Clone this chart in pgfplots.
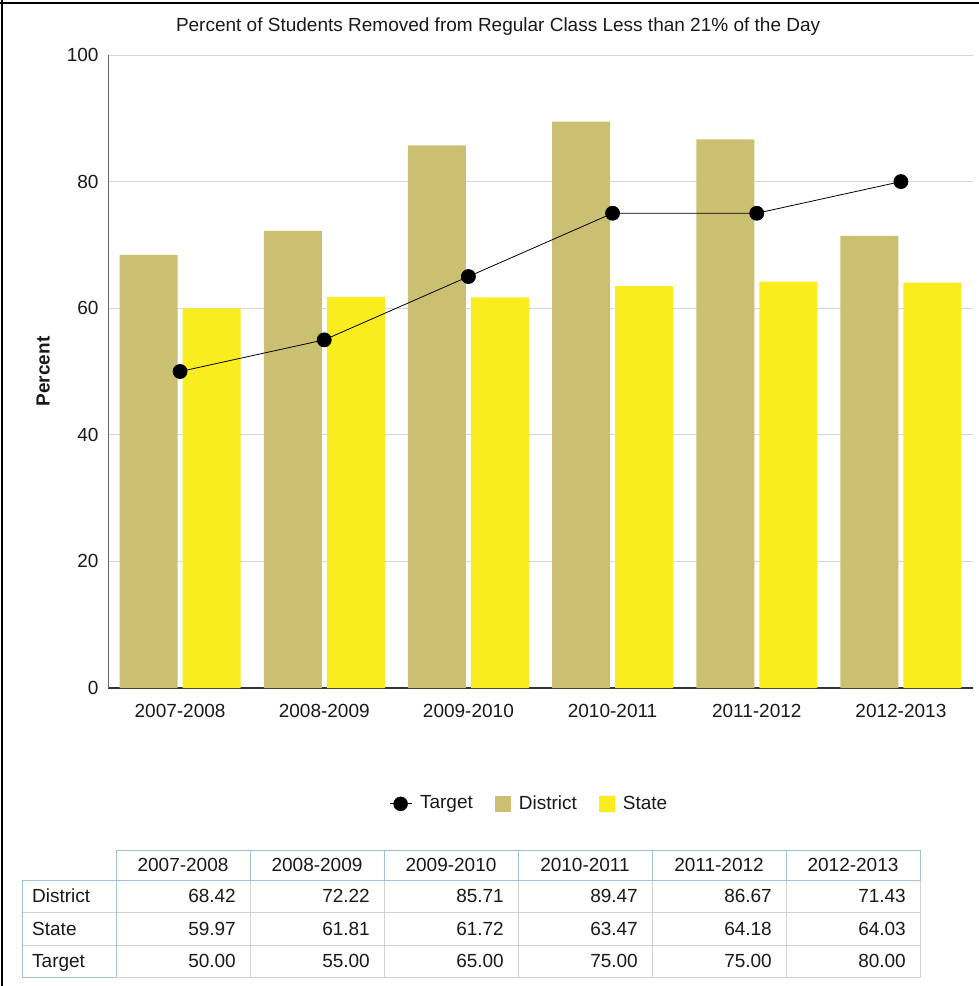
\documentclass[border=0pt]{standalone}
\usepackage{fontspec}
\setmainfont{Liberation Sans}
\usepackage{pgfplots}
\pgfplotsset{compat=1.18}
\definecolor{district}{RGB}{203,192,114}
\definecolor{statec}{RGB}{249,237,31}
\definecolor{gridc}{RGB}{214,214,214}
\definecolor{hdrb}{RGB}{160,190,222}
\definecolor{cellb}{RGB}{210,210,210}
\definecolor{txt}{RGB}{25,25,25}
\pgfplotsset{
  sqlegend/.style={legend image code/.code={\fill[##1] (0pt,-8pt) rectangle (16pt,8pt);}},
  tgtlegend/.style={legend image code/.code={\draw[black,line width=0.8pt] (0pt,0pt) -- (22pt,0pt); \fill[black] (11pt,0pt) circle (7pt);}}
}
\begin{document}
\begin{tikzpicture}[x=1pt,y=1pt]
\fontsize{19}{22}\selectfont
\path[use as bounding box] (0,0) rectangle (979,-986);
\begin{axis}[
  at={(108pt,-688pt)}, anchor=south west,
  scale only axis, width=865pt, height=633pt,
  xmin=-0.5, xmax=5.5, ymin=0, ymax=100,
  xtick={0,1,2,3,4,5},
  xticklabels={2007-2008,2008-2009,2009-2010,2010-2011,2011-2012,2012-2013},
  ytick={0,20,40,60,80,100},
  ymajorgrids, grid style={gridc, line width=1pt},
  axis x line*=bottom, axis y line*=left,
  axis line style={-},
  x axis line style={draw=black!80, line width=1.2pt},
  y axis line style={draw=black!60, line width=1pt},
  major tick length=0pt,
  tick label style={font=\fontsize{19}{22}\selectfont, text=txt},
  /pgf/number format/assume math mode=true,
  yticklabel style={xshift=-3pt},
  xticklabel style={yshift=-10pt},
  title={Percent of Students Removed from Regular Class Less than 21\% of the Day},
  title style={at={(axis description cs:0.451,1.036)}, anchor=center, font=\fontsize{19}{22}\selectfont, text=txt},
  ylabel={\textbf{Percent}},
  ylabel style={at={(axis description cs:-0.075,0.5)}, anchor=center, font=\fontsize{19}{22}\selectfont, text=txt},
  legend style={at={(axis description cs:0.487,-0.183)}, anchor=center, draw=none, fill=none,
    legend columns=3, font=\fontsize{19}{22}\selectfont, text=txt,
    /tikz/every odd column/.append style={column sep=6pt},
    /tikz/every even column/.append style={column sep=20pt},
    legend cell align=left},
]
\addlegendimage{tgtlegend}
\addlegendentry{Target}
\addplot[ybar, bar width=58pt, bar shift=-31.5pt, fill=district, draw=none, sqlegend]
  coordinates {(0,68.42) (1,72.22) (2,85.71) (3,89.47) (4,86.67) (5,71.43)};
\addlegendentry{District}
\addplot[ybar, bar width=58pt, bar shift=31.5pt, fill=statec, draw=none, sqlegend]
  coordinates {(0,59.97) (1,61.81) (2,61.72) (3,63.47) (4,64.18) (5,64.03)};
\addlegendentry{State}
\addplot[black, line width=0.8pt, mark=*, mark size=7pt, forget plot]
  coordinates {(0,50) (1,55) (2,65) (3,75) (4,75) (5,80)};
\end{axis}
% outer border
\draw[black, line width=2pt] (0,-2.5) -- (979,-2.5);
\draw[black, line width=2pt] (1.5,0) -- (1.5,-986);
% data table
\def\rowA{-880}\def\rowB{-912}\def\rowC{-945}\def\rowD{-977}
\foreach \xa/\xb in {116/250,250/384,384/518,518/652,652/786,786/920}{
  \draw[cellb, line width=1pt] (\xa,\rowA) rectangle (\xb,\rowD);
  \draw[cellb, line width=1pt] (\xa,\rowB) -- (\xb,\rowB);
  \draw[cellb, line width=1pt] (\xa,\rowC) -- (\xb,\rowC);
}
\draw[cellb, line width=1pt] (22,\rowB) -- (116,\rowB);
\draw[cellb, line width=1pt] (22,\rowC) -- (116,\rowC);
\draw[hdrb, line width=1pt] (22,\rowA) -- (22,\rowD) -- (116,\rowD);
\draw[hdrb, line width=1pt] (22,\rowA) -- (116,\rowA) -- (116,\rowD);
\foreach \xa/\xb/\lab in {116/250/2007-2008,250/384/2008-2009,384/518/2009-2010,518/652/2010-2011,652/786/2011-2012,786/920/2012-2013}{
  \draw[hdrb, line width=1pt] (\xa,-850) rectangle (\xb,\rowA);
  \node[text=txt, anchor=base, inner sep=0pt] at ({(\xa+\xb)/2},-871.8) {\lab};
}
\node[text=txt, anchor=base west, inner sep=0pt] at (32,-902.8) {District};
\node[text=txt, anchor=base west, inner sep=0pt] at (32,-935.3) {State};
\node[text=txt, anchor=base west, inner sep=0pt] at (32,-967.8) {Target};
\foreach \xb/\va/\vb/\vc in {250/68.42/59.97/50.00,384/72.22/61.81/55.00,518/85.71/61.72/65.00,652/89.47/63.47/75.00,786/86.67/64.18/75.00,920/71.43/64.03/80.00}{
  \node[text=txt, anchor=base east, inner sep=0pt] at (\xb-14,-902.8) {\va};
  \node[text=txt, anchor=base east, inner sep=0pt] at (\xb-14,-935.3) {\vb};
  \node[text=txt, anchor=base east, inner sep=0pt] at (\xb-14,-967.8) {\vc};
}
\end{tikzpicture}
\end{document}
